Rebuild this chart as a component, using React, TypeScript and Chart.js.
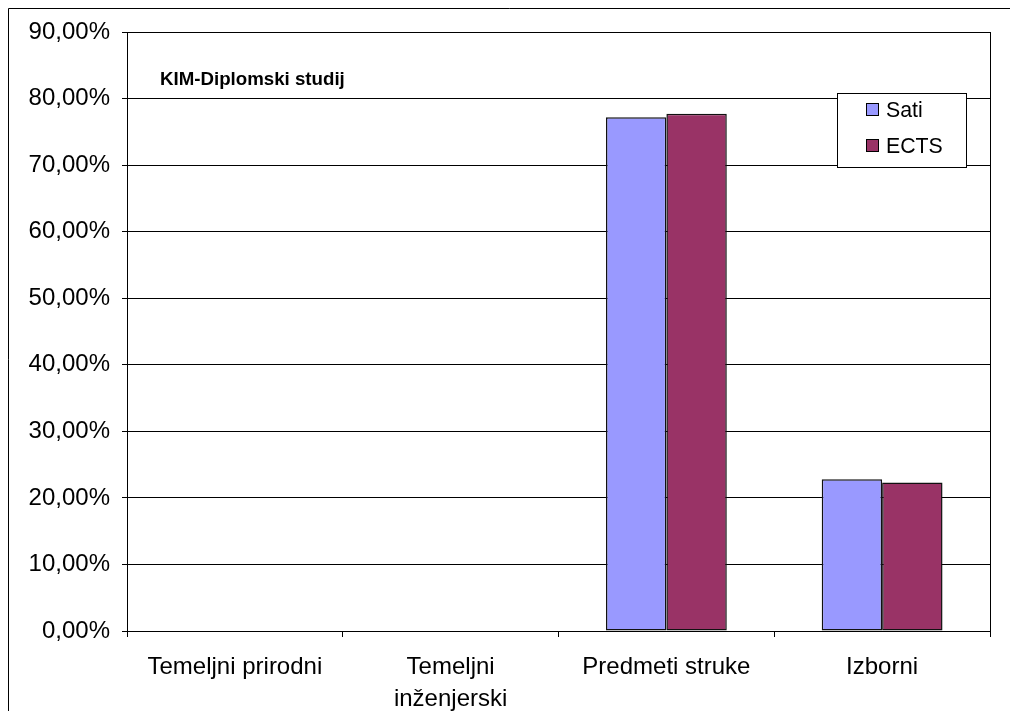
import React, { useEffect, useRef } from 'react';
import { Chart, registerables } from 'chart.js';

Chart.register(...registerables);

const categories: (string | string[])[] = [
  'Temeljni prirodni',
  ['Temeljni', 'inženjerski'],
  'Predmeti struke',
  'Izborni',
];
const satiValues = [0, 0, 77.2, 22.8];
const ectsValues = [0, 0, 77.7, 22.3];
const seriesNames = ['Sati', 'ECTS'];
const seriesColors = ['#9999FF', '#993366'];
const chartTitle = 'KIM-Diplomski studij';
const yMin = 0;
const yMax = 90;
const yStep = 10;

const FONT = '"Liberation Sans", Arial, sans-serif';

const decorPlugin = {
  id: 'decor',
  afterDraw(chart: any) {
    const ctx = chart.ctx;
    const ca = chart.chartArea;
    ctx.save();
    // outer frame (left and top)
    ctx.strokeStyle = '#000';
    ctx.lineWidth = 1;
    ctx.beginPath();
    ctx.moveTo(8.5, chart.height);
    ctx.lineTo(8.5, 8.5);
    ctx.lineTo(chart.width, 8.5);
    ctx.stroke();
    // plot area border
    ctx.strokeRect(Math.round(ca.left) + 0.5, Math.round(ca.top) + 0.5, Math.round(ca.right - ca.left), Math.round(ca.bottom - ca.top));
    // title
    ctx.fillStyle = '#000';
    ctx.font = `bold 18.7px ${FONT}`;
    ctx.textAlign = 'left';
    ctx.textBaseline = 'middle';
    ctx.fillText(chartTitle, 160, 80);
    // legend
    const lx = 837.5, ly = 93.5, lw = 129, lh = 74;
    ctx.fillStyle = '#fff';
    ctx.fillRect(lx, ly, lw, lh);
    ctx.strokeStyle = '#000';
    ctx.strokeRect(lx, ly, lw, lh);
    ctx.font = `21.3px ${FONT}`;
    chart.data.datasets.forEach((ds: any, i: number) => {
      const cy = 110 + i * 36;
      ctx.fillStyle = ds.backgroundColor;
      ctx.fillRect(866.5, cy - 6.5, 12, 12);
      ctx.strokeStyle = '#000';
      ctx.strokeRect(866.5, cy - 6.5, 12, 12);
      ctx.fillStyle = '#000';
      ctx.fillText(ds.label, 886, cy + 1);
    });
    ctx.restore();
  },
};

export default function App() {
  const ref = useRef<HTMLCanvasElement>(null);
  useEffect(() => {
    if (!ref.current) return;
    const chart = new Chart(ref.current, {
      type: 'bar',
      data: {
        labels: categories as any,
        datasets: [
          {
            label: seriesNames[0],
            data: satiValues,
            backgroundColor: seriesColors[0],
            borderColor: '#111',
            borderWidth: 1.5,
            borderSkipped: false,
          },
          {
            label: seriesNames[1],
            data: ectsValues,
            backgroundColor: seriesColors[1],
            borderColor: '#111',
            borderWidth: 1.5,
            borderSkipped: false,
          },
        ],
      },
      options: {
        responsive: false,
        animation: false,
        devicePixelRatio: 1,
        layout: { padding: { top: 32, right: 20, left: 0, bottom: 0 } },
        plugins: {
          legend: { display: false },
          title: { display: false },
          tooltip: { enabled: false },
        },
        datasets: {
          bar: { categoryPercentage: 0.56, barPercentage: 1 },
        },
        scales: {
          x: {
            offset: true,
            grid: {
              offset: true,
              drawOnChartArea: false,
              drawTicks: true,
              tickLength: 6,
              color: '#000',
            },
            border: { display: true, color: '#000' },
            ticks: {
              color: '#000',
              font: { family: FONT, size: 24, lineHeight: 1.33 },
              padding: 14,
              maxRotation: 0,
              autoSkip: false,
            },
            afterFit(scale: any) {
              scale.height = 80;
            },
          },
          y: {
            min: yMin,
            max: yMax,
            grid: {
              color: '#000',
              lineWidth: 1,
              drawTicks: true,
              tickLength: 5,
            },
            border: { display: true, color: '#000' },
            ticks: {
              stepSize: yStep,
              color: '#000',
              padding: 12,
              font: { family: FONT, size: 24 },
              callback: (v: any) => Number(v).toFixed(2).replace('.', ',') + '%',
            },
            afterFit(scale: any) {
              scale.width = 127;
            },
          },
        },
      },
      plugins: [decorPlugin],
    });
    return () => chart.destroy();
  }, []);
  return (
    <div style={{ position: 'absolute', left: 0, top: 0, width: 1010, height: 711, background: '#fff' }}>
      <canvas ref={ref} width={1010} height={711} style={{ display: 'block' }} />
    </div>
  );
}
